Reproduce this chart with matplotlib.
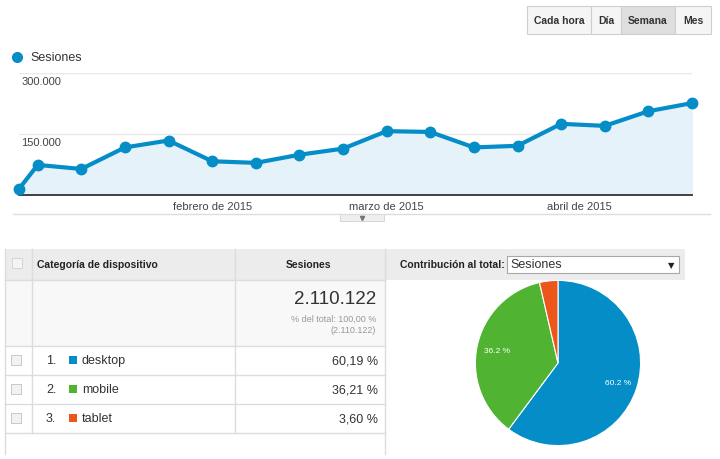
import matplotlib
matplotlib.use("Agg")
import matplotlib.pyplot as plt
from matplotlib.patches import Rectangle
import numpy as np

plt.rcParams['font.family'] = ['Liberation Sans', 'DejaVu Sans']

# datos del grafico de sesiones por semana
semanas = ["2015-01-01", "2015-01-04", "2015-01-11", "2015-01-18", "2015-01-25",
           "2015-02-01", "2015-02-08", "2015-02-15", "2015-02-22", "2015-03-01",
           "2015-03-08", "2015-03-15", "2015-03-22", "2015-03-29", "2015-04-05",
           "2015-04-12", "2015-04-19"]
sesiones = [15000, 74000, 64000, 117000, 134000, 83000, 79000, 99000, 114000,
            157000, 155000, 117000, 121000, 175000, 170000, 206000, 226000]
meses = ["2015-02-01", "2015-03-01", "2015-04-01"]
etiquetas_meses = ["febrero de 2015", "marzo de 2015", "abril de 2015"]
ticks_y = [150000, 300000]
etiquetas_y = ["150.000", "300.000"]
botones = ["Cada hora", "Día", "Semana", "Mes"]

# tabla y tarta
categorias = ["desktop", "mobile", "tablet"]
porcentajes = [60.19, 36.21, 3.60]
total = "2.110.122"
colores = ["#058dc7", "#50b432", "#ed561b"]

AZUL = "#058dc7"
W, H = 720, 460


def caja(x0, y0, x1, y1):
    # pasa una caja en pixeles (origen arriba a la izquierda) a fracciones de figura
    return [x0 / W, 1 - y1 / H, (x1 - x0) / W, (y1 - y0) / H]


fig = plt.figure(figsize=(7.2, 4.6), dpi=100)

# capa de fondo en pixeles para la parte "html"
fondo = fig.add_axes([0, 0, 1, 1])
fondo.set_xlim(0, W)
fondo.set_ylim(H, 0)
fondo.axis("off")

# botones arriba a la derecha
bordes = [527, 591, 621, 675, 711]
for i, b in enumerate(botones):
    color = "#dedede" if b == "Semana" else "#f5f5f5"
    fondo.add_patch(Rectangle((bordes[i], 7), bordes[i + 1] - bordes[i], 28,
                              facecolor=color, edgecolor="#cfcfcf", lw=0.8))
    fondo.text((bordes[i] + bordes[i + 1]) / 2, 21.5, b, ha="center", va="center",
               fontsize=7.5, fontweight="bold", color="#333333")

# leyenda
fondo.plot([17], [58], "o", color=AZUL, ms=7)
fondo.text(30, 58, "Sesiones", va="center", fontsize=9, color="#333333")

# linea separadora y pestaña
fondo.plot([13, 710], [215, 215], color="#dddddd", lw=1)
fondo.add_patch(Rectangle((340, 215), 44, 7, facecolor="#efefef", edgecolor="#d6d6d6", lw=0.7))
fondo.plot([362], [218.5], marker="v", color="#777777", ms=3)

# ---- grafico de lineas ----
ax = fig.add_axes(caja(19, 74, 692, 196))
ax.set_facecolor("none")
fechas = np.array(semanas, dtype="datetime64[D]")
ax.fill_between(fechas, sesiones, color="#e6f2f9", zorder=1)
for v in ticks_y:
    ax.axhline(v, color="#e8e8e8", lw=1, zorder=0.5)
ax.plot(fechas, sesiones, color=AZUL, lw=3, marker="o", ms=7.5, clip_on=False, zorder=3)
ax.set_xlim(fechas[0], fechas[-1])
ax.set_ylim(0, 300000)
for v, t in zip(ticks_y, etiquetas_y):
    ax.annotate(t, xy=(0, v), xycoords=("axes fraction", "data"), xytext=(1.5, -2.5),
                textcoords="offset points", ha="left", va="top", fontsize=8, color="#444444")
ax.set_yticks([])
ax.set_xticks(np.array(meses, dtype="datetime64[D]"))
ax.set_xticklabels(etiquetas_meses, fontsize=8, color="#444444")
ax.tick_params(axis="x", length=0, pad=4)
for s in ["top", "left", "right"]:
    ax.spines[s].set_visible(False)
ax.spines["bottom"].set_color("#333333")
ax.spines["bottom"].set_linewidth(1.3)

# ---- tabla ----
gris_linea = "#dcdcdc"
fondo.add_patch(Rectangle((5, 250), 680, 31, facecolor="#ececec", edgecolor="none"))
fondo.add_patch(Rectangle((5, 281), 380, 66, facecolor="#f8f8f8", edgecolor="none"))
fondo.add_patch(Rectangle((12, 259), 10, 10, facecolor="#f4f4f4", edgecolor="#d4d4d4", lw=0.7))
fondo.text(37, 265.5, "Categoría de dispositivo", va="center", fontsize=7.5,
           fontweight="bold", color="#222222")
fondo.text(308, 265.5, "Sesiones", ha="center", va="center", fontsize=7.5,
           fontweight="bold", color="#222222")

fondo.text(376, 300, total, ha="right", va="center", fontsize=13.5, color="#333333")
fondo.text(376, 319, "% del total: 100,00 %", ha="right", va="center", fontsize=6.5, color="#999999")
fondo.text(376, 331, "(" + total + ")", ha="right", va="center", fontsize=6.5, color="#999999")

# lineas de la tabla
for y in [281, 347, 376, 405, 434]:
    fondo.plot([5, 385], [y, y], color=gris_linea, lw=1)
fondo.plot([5, 5], [250, 455], color=gris_linea, lw=1)
fondo.plot([385, 385], [250, 455], color=gris_linea, lw=1)
fondo.plot([32, 32], [250, 434], color=gris_linea, lw=1)
fondo.plot([235, 235], [250, 434], color=gris_linea, lw=1)

filas_y = [361.5, 390.5, 419.5]
for i, (c, p, col) in enumerate(zip(categorias, porcentajes, colores)):
    y = filas_y[i]
    fondo.add_patch(Rectangle((11, y - 5.5), 10, 10, facecolor="#f2f2f2", edgecolor="#c8c8c8", lw=0.7))
    fondo.text(46, y, f"{i + 1}.", va="center", fontsize=9, color="#333333")
    fondo.add_patch(Rectangle((69, y - 5), 8, 8, facecolor=col, edgecolor="none"))
    fondo.text(82, y, c, va="center", fontsize=9, color="#333333")
    fondo.text(378, y, f"{p:.2f} %".replace(".", ","), ha="right", va="center",
               fontsize=9, color="#333333")

# cabecera de la tarta
fondo.text(400, 265.5, "Contribución al total:", va="center", fontsize=7.5,
           fontweight="bold", color="#222222")
fondo.add_patch(Rectangle((507, 257), 172, 16.5, facecolor="white", edgecolor="#a8a8a8", lw=0.8))
fondo.text(510, 265.5, "Sesiones", va="center", fontsize=9, color="#333333")
fondo.text(671, 265.5, "▼", ha="center", va="center", fontsize=6, color="#222222",
           family=["DejaVu Sans"])

# ---- tarta ----
ax2 = fig.add_axes(caja(475, 281, 641, 447))
ax2.pie(porcentajes, colors=colores, startangle=90, counterclock=False,
        autopct=lambda p: f"{p:.1f} %" if p > 5 else "", pctdistance=0.76,
        textprops={"color": "white", "fontsize": 6},
        wedgeprops={"edgecolor": "white", "linewidth": 0.8})
ax2.set_xlim(-1.005, 1.005)
ax2.set_ylim(-1.005, 1.005)
ax2.set_aspect("equal")

fig.savefig("out.png", dpi=100)
